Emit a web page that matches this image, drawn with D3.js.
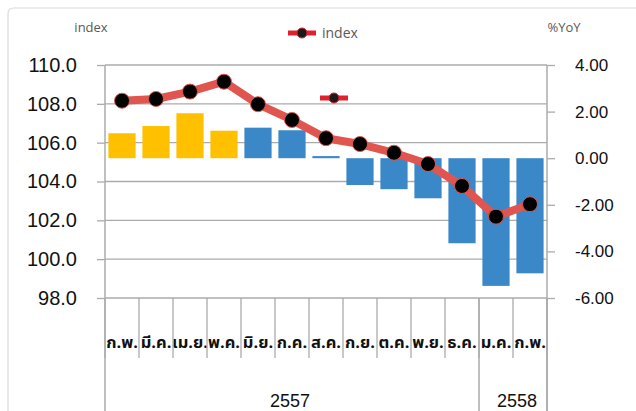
<!DOCTYPE html>
<html><head><meta charset="utf-8">
<script src="https://cdn.jsdelivr.net/npm/d3@7/dist/d3.min.js"></script>
<style>
html,body{margin:0;padding:0;background:#fff;}
svg{display:block;}
</style></head>
<body>
<svg id="c" width="636" height="411"></svg>
<script>
// ---- data ----
const categories = ["ก.พ.","มี.ค.","เม.ย.","พ.ค.","มิ.ย.","ก.ค.","ส.ค.","ก.ย.","ต.ค.","พ.ย.","ธ.ค.","ม.ค.","ก.พ."];
const indexValues = [108.16, 108.25, 108.63, 109.14, 107.98, 107.17, 106.23, 105.93, 105.48, 104.90, 103.77, 102.19, 102.83];
const yoyValues = [1.07, 1.38, 1.93, 1.18, 1.31, 1.20, 0.09, -1.15, -1.33, -1.72, -3.65, -5.48, -4.94];
const barGroup = ["a","a","a","a","b","b","b","b","b","b","b","b","b"];
const years = ["2557", "2558"];
const yearSpans = [11, 2];
const leftTicks = [98, 100, 102, 104, 106, 108, 110];
const rightTicks = [-6, -4, -2, 0, 2, 4];

// ---- layout ----
const svg = d3.select("#c");
const L = 105, R = 547, T = 65, B = 298;
const x = d3.scaleBand().domain(d3.range(categories.length)).range([L, R]).paddingInner(0.2).paddingOuter(0.1);
const step = (R - L) / categories.length;
const yL = d3.scaleLinear().domain([98, 110]).range([B, T]);
const yR = d3.scaleLinear().domain([-6, 4]).range([B, T]);
const color = d3.scaleOrdinal().domain(["a","b"]).range(["#FFC000", "#3B88C8"]);
const gridCol = "#ABABAB";

// outer border (top/left)
svg.append("path").attr("d", "M8,411 L8,14 Q8,8 14,8 L636,8").attr("fill","none").attr("stroke","#D9D9D9").attr("stroke-width",1.2);

// gridlines
svg.append("g").selectAll("line").data(leftTicks).join("line")
  .attr("x1", L).attr("x2", R).attr("y1", d => yL(d)).attr("y2", d => yL(d))
  .attr("stroke", gridCol).attr("stroke-width", 1.3);

// left axis
const gL = svg.append("g").attr("transform", `translate(${L},0)`)
  .call(d3.axisLeft(yL).tickValues(leftTicks).tickFormat(d3.format(".1f")).tickSize(8).tickPadding(20));
gL.select(".domain").remove();
gL.selectAll(".tick line").attr("stroke", gridCol).attr("stroke-width", 1.3);
gL.selectAll(".tick text").attr("font-family", "'Liberation Sans Narrow', 'Liberation Sans', Arial, sans-serif")
  .attr("font-size", 20).attr("fill", "#111");

// right axis
const gR = svg.append("g").attr("transform", `translate(${R},0)`).attr("clip-path","url(#rc)");
gR.append("clipPath").attr("id","rc").append("rect").attr("x", -10).attr("y", 0).attr("width", 82).attr("height", 411);
gR.call(d3.axisRight(yR).tickValues(rightTicks).tickFormat(d3.format(".2f")).tickSize(8).tickPadding(20));
gR.select(".domain").remove();
gR.selectAll(".tick line").attr("stroke", gridCol).attr("stroke-width", 1.3);
gR.selectAll(".tick text").attr("font-family", "'Liberation Sans', Arial, sans-serif")
  .attr("font-size", 17).attr("fill", "#111").text(d => d3.format(".2f")(d).replace("−","-"));

// axis lines
svg.append("line").attr("x1", L).attr("x2", L).attr("y1", T).attr("y2", 411).attr("stroke", gridCol).attr("stroke-width", 1.5);
svg.append("line").attr("x1", R).attr("x2", R).attr("y1", T).attr("y2", 411).attr("stroke", gridCol).attr("stroke-width", 1.5);

// bars
svg.append("g").selectAll("rect").data(yoyValues).join("rect")
  .attr("x", (d, i) => x(i)).attr("width", x.bandwidth())
  .attr("y", d => yR(Math.max(0, d))).attr("height", d => Math.max(1.5, Math.abs(yR(d) - yR(0))))
  .attr("fill", (d, i) => color(barGroup[i]));

// line
const line = d3.line().x((d, i) => x(i) + x.bandwidth() / 2).y(d => yL(d));
svg.append("path").datum(indexValues).attr("d", line).attr("fill", "none")
  .attr("stroke", "#E0554F").attr("stroke-width", 8).attr("stroke-linejoin", "round");
svg.append("g").selectAll("circle").data(indexValues).join("circle")
  .attr("cx", (d, i) => x(i) + x.bandwidth() / 2).attr("cy", d => yL(d)).attr("r", 7.5)
  .attr("fill", "#000").attr("stroke", "#E0554F").attr("stroke-width", 1);

// category labels + dividers
const xAx = svg.append("g");
xAx.selectAll("text").data(categories).join("text")
  .attr("x", (d, i) => x(i) + x.bandwidth() / 2).attr("y", 348)
  .attr("text-anchor", "middle").attr("font-family", "Tahoma, 'Noto Sans Thai', 'DejaVu Sans', sans-serif")
  .attr("font-size", 16.5).attr("font-weight", "bold").attr("fill", "#111").text(d => d);
xAx.selectAll("line.cd").data(d3.range(categories.length + 1)).join("line").attr("class","cd")
  .attr("x1", i => L + i * step).attr("x2", i => L + i * step).attr("y1", B).attr("y2", 358)
  .attr("stroke", gridCol).attr("stroke-width", 1.3);

// year labels + dividers
let acc = 0;
years.forEach((yv, k) => {
  const x0 = L + acc * step, x1 = L + (acc + yearSpans[k]) * step;
  svg.append("line").attr("x1", x1).attr("x2", x1).attr("y1", B).attr("y2", 411).attr("stroke", gridCol).attr("stroke-width", 1.5);
  svg.append("text").attr("x", (x0 + x1) / 2 + (k === 1 ? 4 : -2)).attr("y", 407).attr("text-anchor", "middle")
    .attr("font-family", "'Liberation Sans', Arial, sans-serif").attr("font-size", 18).attr("fill", "#111").text(yv);
  acc += yearSpans[k];
});

// titles
svg.append("text").attr("x", 91).attr("y", 32).attr("text-anchor", "middle").attr("font-family", "'Open Sans', 'Noto Sans', sans-serif")
  .attr("font-size", 13).attr("fill", "#595959").text("index");
svg.append("text").attr("x", 564).attr("y", 32).attr("text-anchor", "middle").attr("font-family", "'Open Sans', 'Noto Sans', sans-serif")
  .attr("font-size", 13).attr("fill", "#595959").text("%YoY");

// legend
function legendSym(cx, cy) {
  svg.append("line").attr("x1", cx - 14).attr("x2", cx + 14).attr("y1", cy).attr("y2", cy).attr("stroke", "#E0202A").attr("stroke-width", 5);
  svg.append("circle").attr("cx", cx).attr("cy", cy).attr("r", 5).attr("fill", "#1a1a1a").attr("stroke", "#E0202A").attr("stroke-width", 1);
}
legendSym(302, 33);
svg.append("text").attr("x", 322).attr("y", 38).attr("font-family", "'Open Sans', 'Noto Sans', sans-serif")
  .attr("font-size", 14).attr("fill", "#595959").text("index");
legendSym(334, 98);
</script>
</body></html>
